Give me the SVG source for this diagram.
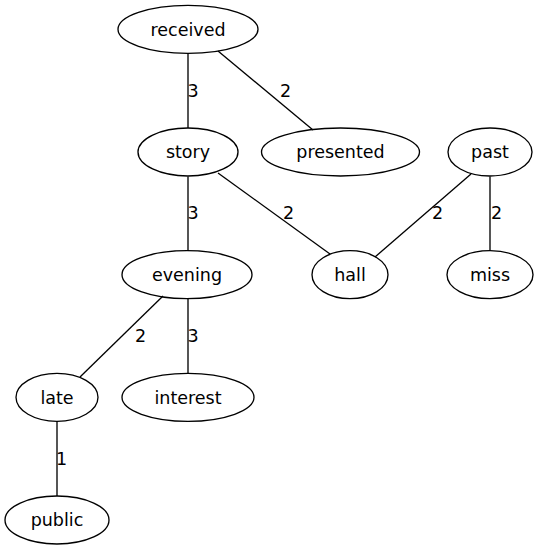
<svg xmlns="http://www.w3.org/2000/svg" width="540" height="552" viewBox="0 0 540 552">
<style>
ellipse{fill:none;stroke:#000;stroke-width:1.33}
line{stroke:#000;stroke-width:1.33}
text{font-family:"DejaVu Sans",sans-serif;font-size:17.5px;fill:#000}
.n{text-anchor:middle}
</style>
<rect width="540" height="552" fill="#fff"/>
<g id="edges">
<line x1="188" y1="53.5" x2="188" y2="128"/>
<text x="187.5" y="96.5">3</text>
<line x1="218" y1="51" x2="313" y2="130"/>
<text x="280" y="96.5">2</text>
<line x1="188" y1="176.5" x2="188" y2="250.5"/>
<text x="187.5" y="219">3</text>
<line x1="218" y1="173" x2="330" y2="254"/>
<text x="283" y="219">2</text>
<line x1="471" y1="174" x2="375" y2="257"/>
<text x="432" y="218.5">2</text>
<line x1="490" y1="176.5" x2="490" y2="250.5"/>
<text x="491" y="218.5">2</text>
<line x1="163" y1="296" x2="80" y2="377"/>
<text x="135" y="342">2</text>
<line x1="188" y1="298.5" x2="188" y2="373"/>
<text x="187.5" y="342">3</text>
<line x1="57" y1="421.5" x2="57" y2="496"/>
<text x="56" y="465">1</text>
</g>
<g id="received"><ellipse cx="188" cy="29.3" rx="70" ry="24"/><text class="n" x="188" y="35.5">received</text></g>
<g id="story"><ellipse cx="188" cy="152" rx="50" ry="24"/><text class="n" x="188" y="158">story</text></g>
<g id="presented"><ellipse cx="340.5" cy="152" rx="79" ry="24"/><text class="n" x="340.5" y="158">presented</text></g>
<g id="past"><ellipse cx="490" cy="152" rx="42" ry="24"/><text class="n" x="490" y="158">past</text></g>
<g id="evening"><ellipse cx="187" cy="274.7" rx="65" ry="24"/><text class="n" x="187" y="281">evening</text></g>
<g id="hall"><ellipse cx="350" cy="274.7" rx="38" ry="24"/><text class="n" x="350" y="281">hall</text></g>
<g id="miss"><ellipse cx="490" cy="274.7" rx="43" ry="24"/><text class="n" x="490" y="281">miss</text></g>
<g id="late"><ellipse cx="57" cy="397.3" rx="41" ry="24"/><text class="n" x="57" y="403.5">late</text></g>
<g id="interest"><ellipse cx="188" cy="397.3" rx="66" ry="24"/><text class="n" x="188" y="403.5">interest</text></g>
<g id="public"><ellipse cx="57" cy="520" rx="52" ry="24"/><text class="n" x="57" y="526">public</text></g>
</svg>
